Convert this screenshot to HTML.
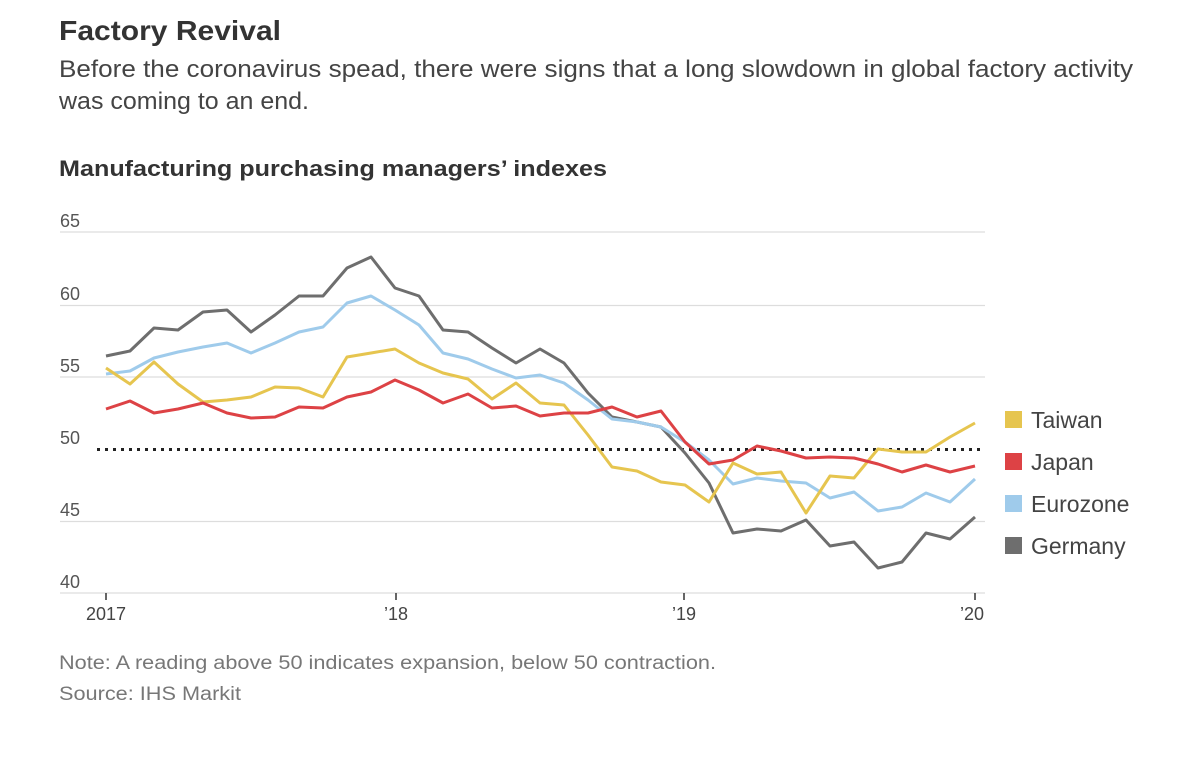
<!DOCTYPE html>
<html><head><meta charset="utf-8"><style>
body{margin:0;background:#fff;width:1200px;height:759px;overflow:hidden;font-family:"Liberation Sans",sans-serif}
</style></head><body>
<svg width="1200" height="759" xmlns="http://www.w3.org/2000/svg" font-family="Liberation Sans, sans-serif">
<text x="59" y="40" font-size="28" font-weight="bold" fill="#333" textLength="222" lengthAdjust="spacingAndGlyphs">Factory Revival</text>
<text x="59" y="77" font-size="24" fill="#444" textLength="1074" lengthAdjust="spacingAndGlyphs">Before the coronavirus spead, there were signs that a long slowdown in global factory activity</text>
<text x="59" y="109" font-size="24" fill="#444" textLength="250" lengthAdjust="spacingAndGlyphs">was coming to an end.</text>
<text x="59" y="176" font-size="22" font-weight="bold" fill="#333" textLength="548" lengthAdjust="spacingAndGlyphs">Manufacturing purchasing managers’ indexes</text>
<g stroke="#ddd" stroke-width="1.2">
<line x1="60" y1="232" x2="985" y2="232"/><line x1="60" y1="305.5" x2="985" y2="305.5"/>
<line x1="60" y1="377" x2="985" y2="377"/><line x1="60" y1="521.5" x2="985" y2="521.5"/>
<line x1="60" y1="593" x2="985" y2="593"/></g>
<g font-size="18" fill="#555">
<text x="60" y="227">65</text><text x="60" y="300">60</text><text x="60" y="372">55</text>
<text x="60" y="444">50</text><text x="60" y="516">45</text><text x="60" y="588">40</text></g>
<line x1="97" y1="449.5" x2="985" y2="449.5" stroke="#222" stroke-width="3" stroke-dasharray="3,5"/>
<g stroke="#333" stroke-width="1.5"><line x1="106" y1="593" x2="106" y2="600"/><line x1="396" y1="593" x2="396" y2="600"/><line x1="684" y1="593" x2="684" y2="600"/><line x1="975" y1="593" x2="975" y2="600"/></g>
<g font-size="18" fill="#444" text-anchor="middle">
<text x="106" y="620">2017</text><text x="396" y="620">’18</text><text x="684" y="620">’19</text><text x="972" y="620">’20</text></g>
<g fill="none" stroke-width="3" stroke-linejoin="round">
<polyline stroke="#6e6e6e" points="106,356 130,351 154,328 178,330 203,312 227,310 251,332 275,315 299,296 323,296 347,268 371,257 395,288 419,296 443,330 468,332 492,348 516,363 540,349 564,363 588,393 612,417 637,422 661,427 685,453 709,483 733,533 757,529 781,531 806,520 830,546 854,542 878,568 902,562 926,533 950,539 975,517"/>
<polyline stroke="#9fcbeb" points="106,374 130,371 154,358 178,352 203,347 227,343 251,353 275,343 299,332 323,327 347,303 371,296 395,310 419,325 443,353 468,359 492,369 516,378 540,375 564,383 588,400 612,419 637,422 661,427 685,442 709,460 733,484 757,478 781,481 806,483 830,498 854,492 878,511 902,507 926,493 950,502 975,479"/>
<polyline stroke="#e6c54f" points="106,368 130,384 154,362 178,384 203,402 227,400 251,397 275,387 299,388 323,397 347,357 371,353 395,349 419,363 443,373 468,379 492,399 516,383 540,403 564,405 588,435 612,467 637,471 661,482 685,485 709,502 733,463 757,474 781,472 806,513 830,476 854,478 878,449 902,452 926,452 950,437 975,423"/>
<polyline stroke="#dd4245" points="106,409 130,401 154,413 178,409 203,403 227,413 251,418 275,417 299,407 323,408 347,397 371,392 395,380 419,390 443,403 468,394 492,408 516,406 540,416 564,413 588,413 612,407 637,417 661,411 685,442 709,464 733,460 757,446 781,451 806,458 830,457 854,458 878,464 902,472 926,465 950,472 975,466"/>
</g>
<rect x="1005" y="411" width="17" height="17" fill="#e6c54f"/>
<rect x="1005" y="453" width="17" height="17" fill="#dd4245"/>
<rect x="1005" y="495" width="17" height="17" fill="#9fcbeb"/>
<rect x="1005" y="537" width="17" height="17" fill="#6e6e6e"/>
<g font-size="23" fill="#444">
<text x="1031" y="428">Taiwan</text><text x="1031" y="470">Japan</text>
<text x="1031" y="512">Eurozone</text><text x="1031" y="554">Germany</text></g>
<g font-size="19" fill="#777">
<text x="59" y="669" textLength="657" lengthAdjust="spacingAndGlyphs">Note: A reading above 50 indicates expansion, below 50 contraction.</text>
<text x="59" y="700" textLength="182" lengthAdjust="spacingAndGlyphs">Source: IHS Markit</text></g>
</svg>
</body></html>
